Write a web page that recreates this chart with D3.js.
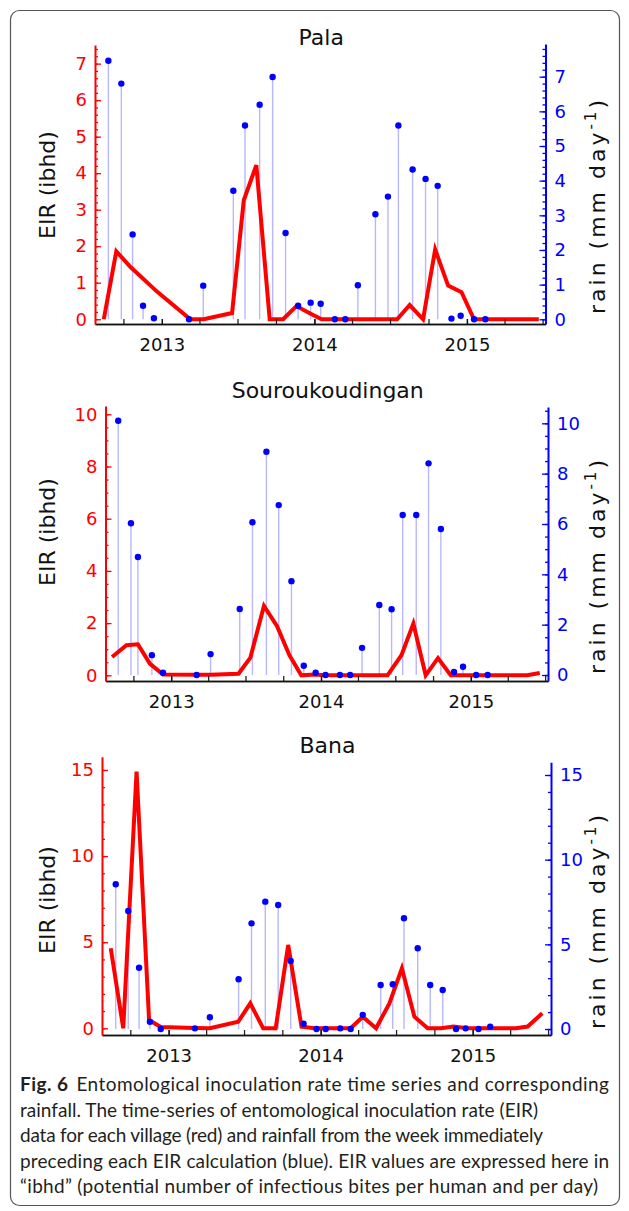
<!DOCTYPE html>
<html>
<head>
<meta charset="utf-8">
<script src="https://cdn.jsdelivr.net/npm/d3@7"></script>
<style>
  body { margin: 0; background: #fff; }
  svg { display: block; }
</style>
</head>
<body>
<svg id="fig6"></svg>
<script>
// ---- values ----
const yearTicks = ["2013-01-01", "2014-01-01", "2015-01-01"];
const xDomain = ["2012-07-25", "2015-07-08"];

// Pala
const palaEirDates = ["2012-08-15","2012-09-14","2012-10-18","2012-12-21","2013-03-10","2013-04-11","2013-06-18","2013-07-16","2013-08-15","2013-09-16","2013-10-18","2013-11-19","2013-12-22","2014-01-18","2014-02-18","2014-03-16","2014-04-14","2014-05-27","2014-06-25","2014-07-18","2014-08-17","2014-09-18","2014-10-17","2014-11-17","2014-12-19","2015-01-18","2015-02-19","2015-03-22","2015-04-20","2015-05-21","2015-06-22"];
const palaEir = [0,1.86,1.43,0.75,0,0,0.17,3.26,4.22,0,0,0.36,0.16,0,0,0,0,0,0,0,0.39,0,1.91,0.92,0.74,0,0,0,0,0,0];
const palaRainDates = ["2012-08-26","2012-09-26","2012-10-23","2012-11-17","2012-12-13","2013-03-07","2013-04-10","2013-06-21","2013-07-19","2013-08-23","2013-09-23","2013-10-24","2013-11-23","2013-12-23","2014-01-16","2014-02-19","2014-03-16","2014-04-15","2014-05-27","2014-06-26","2014-07-21","2014-08-24","2014-09-24","2014-10-23","2014-11-25","2014-12-17","2015-01-18","2015-02-14"];
const palaRain = [7.46,6.80,2.45,0.39,0.03,0,0.97,3.71,5.59,6.19,6.99,2.49,0.39,0.48,0.45,0,0,0.98,3.03,3.54,5.59,4.32,4.05,3.85,0.02,0.10,0,0];
const palaEirTicks = [0,1,2,3,4,5,6,7];
const palaRainTicks = [0,1,2,3,4,5,6,7];

// Souroukoudingan
const souroEirDates = ["2012-08-10","2012-09-14","2012-10-12","2012-11-10","2012-12-12","2013-03-04","2013-04-07","2013-06-14","2013-07-13","2013-08-15","2013-09-16","2013-10-16","2013-11-14","2013-12-16","2014-01-09","2014-02-15","2014-03-13","2014-04-11","2014-05-13","2014-06-12","2014-07-16","2014-08-14","2014-09-13","2014-10-13","2014-11-13","2014-12-13","2015-01-14","2015-02-14","2015-03-17","2015-04-18","2015-05-18","2015-06-18"];
const souroEir = [0.70,1.15,1.19,0.45,0.03,0.02,0.02,0.06,0.68,2.66,1.88,0.77,0,0.03,0,0,0,0,0,0,0.77,1.98,0,0.66,0,0,0,0,0,0,0,0.09];
const souroRainDates = ["2012-08-25","2012-09-25","2012-10-12","2012-11-15","2012-12-12","2013-03-04","2013-04-07","2013-06-17","2013-07-18","2013-08-21","2013-09-20","2013-10-21","2013-11-20","2013-12-19","2014-01-12","2014-02-16","2014-03-13","2014-04-11","2014-05-23","2014-06-22","2014-07-19","2014-08-21","2014-09-20","2014-10-20","2014-11-21","2014-12-13","2015-01-14","2015-02-11"];
const souroRain = [10.1,6.03,4.69,0.79,0.09,0,0.83,2.62,6.07,8.87,6.75,3.73,0.37,0.09,0,0,0,1.08,2.78,2.61,6.36,6.36,8.41,5.80,0.12,0.33,0,0];
const souroEirTicks = [0,2,4,6,8,10];
const souroRainTicks = [0,2,4,6,8,10];

// Bana
const banaEirDates = ["2012-08-15","2012-09-14","2012-10-16","2012-11-15","2012-12-13","2013-03-05","2013-04-10","2013-06-17","2013-07-16","2013-08-16","2013-09-15","2013-10-15","2013-11-16","2013-12-18","2014-01-13","2014-02-16","2014-03-14","2014-04-12","2014-05-14","2014-06-15","2014-07-15","2014-08-14","2014-09-15","2014-10-17","2014-11-16","2014-12-19","2015-01-17","2015-02-15","2015-03-16","2015-04-15","2015-05-13","2015-06-17"];
const banaEir = [4.65,0,14.9,0.48,0.08,0.02,0,0.38,1.45,0,0,4.84,0.09,0,0,0,0,0.67,0,1.45,3.48,0.67,0,0,0.1,0,0,0,0,0,0.1,0.87];
const banaRainDates = ["2012-08-27","2012-09-26","2012-10-22","2012-11-17","2012-12-13","2013-03-05","2013-04-10","2013-06-18","2013-07-19","2013-08-21","2013-09-21","2013-10-21","2013-11-21","2013-12-22","2014-01-13","2014-02-17","2014-03-14","2014-04-12","2014-05-25","2014-06-23","2014-07-20","2014-08-22","2014-09-21","2014-10-21","2014-11-22","2014-12-15","2015-01-15","2015-02-12"];
const banaRain = [8.55,6.97,3.62,0.43,0,0.04,0.69,2.94,6.24,7.52,7.32,4.02,0.31,0,0,0.04,0,0.83,2.60,2.64,6.54,4.77,2.60,2.30,0,0.04,0,0.14];
const banaEirTicks = [0,5,10,15];
const banaRainTicks = [0,5,10,15];

const captionLines = [
  "rainfall. The time-series of entomological inoculation rate (EIR)",
  "data for each village (red) and rainfall from the week immediately",
  "preceding each EIR calculation (blue). EIR values are expressed here in",
  "\u201cibhd\u201d (potential number of infectious bites per human and per day)"
];

// ---- layout of the three panels ----
const panels = [
  { name: "Pala", eirDates: palaEirDates, eir: palaEir, rainDates: palaRainDates, rain: palaRain,
    eirTicks: palaEirTicks, rainTicks: palaRainTicks, eirMinor: 0.2, rainMinor: 0.2,
    left: 95, right: 545.5, bottom: 324, eirTop: 45, rainTop: 44,
    eirDomain: [-0.13, 7.51], rainDomain: [-0.136, 7.943],
    titleY: 45, eirLabelY: 185, rainLabelY: 207 },
  { name: "Souroukoudingan", eirDates: souroEirDates, eir: souroEir, rainDates: souroRainDates, rain: souroRain,
    eirTicks: souroEirTicks, rainTicks: souroRainTicks, eirMinor: 0.5, rainMinor: 0.5,
    left: 105.5, right: 548, bottom: 681, eirTop: 406, rainTop: 407,
    eirDomain: [-0.218, 10.318], rainDomain: [-0.238, 10.648],
    titleY: 398, eirLabelY: 532, rainLabelY: 567 },
  { name: "Bana", eirDates: banaEirDates, eir: banaEir, rainDates: banaRainDates, rain: banaRain,
    eirTicks: banaEirTicks, rainTicks: banaRainTicks, eirMinor: 1, rainMinor: 1,
    left: 102, right: 551, bottom: 1035, eirTop: 756.7, rainTop: 762.3,
    eirDomain: [-0.389, 15.77], rainDomain: [-0.354, 15.75],
    titleY: 753, eirLabelY: 900, rainLabelY: 922 }
];

const parse = d3.utcParse("%Y-%m-%d");
const RED = "#ff0000", BLUE = "#0000ff";
const chartFont = "'DejaVu Sans', sans-serif";

const svg = d3.select("#fig6")
    .attr("width", 629)
    .attr("height", 1211);

// rounded frame
svg.append("rect")
    .attr("x", 10.5).attr("y", 10.5)
    .attr("width", 609).attr("height", 1195)
    .attr("rx", 9)
    .attr("fill", "none")
    .attr("stroke", "#555")
    .attr("stroke-width", 1.2);

const xDates = xDomain.map(parse);
const years = yearTicks.map(parse);
const quarters = d3.utcMonth.every(3).range(xDates[0], xDates[1]);

function styleAxis(sel, color, width) {
    sel.attr("color", color)
        .attr("font-family", chartFont)
        .attr("font-size", 18);
    sel.select(".domain").attr("stroke-width", width);
    sel.selectAll(".tick line").attr("stroke-width", 1.3);
}

panels.forEach(p => {
    const g = svg.append("g").attr("class", "panel");

    const x = d3.scaleUtc().domain(xDates).range([p.left, p.right]);
    const yEir = d3.scaleLinear().domain(p.eirDomain).range([p.bottom, p.eirTop]);
    const yRain = d3.scaleLinear().domain(p.rainDomain).range([p.bottom, p.rainTop]);

    const rainPts = p.rainDates.map((d, i) => ({ date: parse(d), v: p.rain[i] }));
    const eirPts = p.eirDates.map((d, i) => ({ date: parse(d), v: p.eir[i] }));

    // rain stems
    g.selectAll(".stem")
        .data(rainPts)
        .join("line")
        .attr("class", "stem")
        .attr("x1", d => x(d.date))
        .attr("x2", d => x(d.date))
        .attr("y1", yRain(0))
        .attr("y2", d => yRain(d.v))
        .attr("stroke", "#b8b8ff")
        .attr("stroke-width", 1.4);

    // EIR line
    g.append("path")
        .datum(eirPts)
        .attr("fill", "none")
        .attr("stroke", RED)
        .attr("stroke-width", 4)
        .attr("stroke-linejoin", "miter")
        .attr("d", d3.line().x(d => x(d.date)).y(d => yEir(d.v)));

    // rain dots
    g.selectAll(".dot")
        .data(rainPts)
        .join("circle")
        .attr("class", "dot")
        .attr("cx", d => x(d.date))
        .attr("cy", d => yRain(d.v))
        .attr("r", 3.2)
        .attr("fill", BLUE);

    // x axis: quarter ticks + year labels
    g.append("g")
        .attr("transform", `translate(0,${p.bottom})`)
        .call(d3.axisBottom(x).tickValues(quarters).tickSizeInner(-5).tickSizeOuter(0).tickFormat(""))
        .call(a => styleAxis(a, "#222", 1.5));
    g.append("g")
        .attr("transform", `translate(0,${p.bottom})`)
        .call(d3.axisBottom(x).tickValues(years).tickSizeInner(-5).tickSizeOuter(0)
            .tickPadding(14).tickFormat(d3.utcFormat("%Y")))
        .call(a => styleAxis(a, "#111", 1.5));

    // left EIR axis (ticks point inward)
    g.append("g")
        .attr("transform", `translate(${p.left},0)`)
        .call(d3.axisLeft(yEir).tickValues(d3.range(0, p.eirDomain[1], p.eirMinor))
            .tickSizeInner(-3).tickSizeOuter(0).tickFormat(""))
        .call(a => { styleAxis(a, RED, 2); a.select(".domain").remove(); });
    g.append("g")
        .attr("transform", `translate(${p.left},0)`)
        .call(d3.axisLeft(yEir).tickValues(p.eirTicks).tickSizeInner(-6).tickSizeOuter(0).tickPadding(8))
        .call(a => styleAxis(a, RED, 2));

    // right rain axis
    g.append("g")
        .attr("transform", `translate(${p.right},0)`)
        .call(d3.axisRight(yRain).tickValues(d3.range(0, p.rainDomain[1], p.rainMinor))
            .tickSizeInner(-3).tickSizeOuter(0).tickFormat(""))
        .call(a => { styleAxis(a, BLUE, 2); a.select(".domain").remove(); });
    g.append("g")
        .attr("transform", `translate(${p.right},0)`)
        .call(d3.axisRight(yRain).tickValues(p.rainTicks).tickSizeInner(-6).tickSizeOuter(0).tickPadding(9))
        .call(a => styleAxis(a, BLUE, 2));

    // title
    g.append("text")
        .attr("x", (p.left + p.right) / 2 + 1)
        .attr("y", p.titleY)
        .attr("text-anchor", "middle")
        .attr("font-family", chartFont)
        .attr("font-size", 22)
        .attr("fill", "#111")
        .text(p.name);

    // axis labels
    g.append("text")
        .attr("transform", `translate(55,${p.eirLabelY}) rotate(-90)`)
        .attr("text-anchor", "middle")
        .attr("font-family", chartFont)
        .attr("font-size", 22)
        .attr("fill", "#111")
        .text("EIR (ibhd)");

    const rl = g.append("text")
        .attr("transform", `translate(605,${p.rainLabelY}) rotate(-90)`)
        .attr("text-anchor", "middle")
        .attr("font-family", chartFont)
        .attr("font-size", 22)
        .attr("fill", "#111")
        .attr("textLength", 214)
        .attr("lengthAdjust", "spacing");
    rl.append("tspan").text("rain (mm day");
    rl.append("tspan").attr("font-size", 15).attr("dy", -9).text("-1");
    rl.append("tspan").attr("dy", 9).text(")");
});

// caption
const capFont = "Lato, 'Open Sans', sans-serif";
const cap = svg.append("g").attr("fill", "#231f20").attr("font-family", capFont).attr("font-size", 19);
const first = cap.append("text")
    .attr("x", 20).attr("y", 1091)
    .attr("textLength", 589).attr("lengthAdjust", "spacing");
first.append("tspan").attr("font-weight", "bold").text("Fig. 6");
first.append("tspan").attr("dx", 8).text("Entomological inoculation rate time series and corresponding");

const capWidths = [518, 523, 589, 578];
cap.selectAll(".capline")
    .data(captionLines)
    .join("text")
    .attr("class", "capline")
    .attr("x", 20)
    .attr("y", (d, i) => 1116.5 + i * 25.5)
    .attr("textLength", (d, i) => capWidths[i])
    .attr("lengthAdjust", "spacing")
    .text(d => d);
</script>
</body>
</html>
